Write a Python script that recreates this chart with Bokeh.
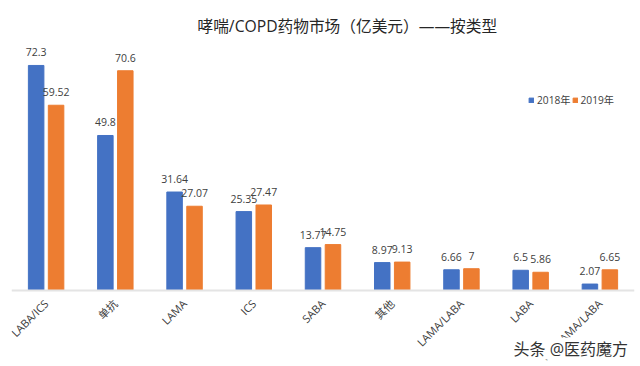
from math import pi
from bokeh.plotting import figure
from bokeh.models import ColumnDataSource, FactorRange, Range1d, Legend, LegendItem, Label
from bokeh.transform import dodge
from bokeh.core.properties import value
from bokeh.embed import file_html
from bokeh.resources import INLINE

categories = ["LABA/ICS", "单抗", "LAMA", "ICS", "SABA", "其他", "LAMA/LABA", "LABA", "ICS/LAMA/LABA"]
v2018 = [72.3, 49.8, 31.64, 25.35, 13.77, 8.97, 6.66, 6.5, 2.07]
v2019 = [59.52, 70.6, 27.07, 27.47, 14.75, 9.13, 7, 5.86, 6.65]
l2018 = ["72.3", "49.8", "31.64", "25.35", "13.77", "8.97", "6.66", "6.5", "2.07"]
l2019 = ["59.52", "70.6", "27.07", "27.47", "14.75", "9.13", "7", "5.86", "6.65"]
title = "哮喘/COPD药物市场（亿美元）——按类型"
series = ["2018年", "2019年"]
watermark = "头条 @医药魔方"

FONT = "'Open Sans', 'Noto Sans CJK SC'"
BLUE, ORANGE = "#4472c4", "#ed7d31"
TXT = "#404040"

src = ColumnDataSource(dict(cat=categories, a=v2018, b=v2019, la=l2018, lb=l2019))

# The frame runs below y=0 so the watermark can lie inside it; the axis is pinned at y=0.
p = figure(frame_width=623, frame_height=319, x_range=FactorRange(*categories, range_padding=0, factor_padding=0),
           y_range=Range1d(-22.49, 80), output_backend="svg", toolbar_location=None,
           min_border_left=11, min_border_right=6, min_border_top=41, min_border_bottom=6,
           background_fill_color="white", border_fill_color="white", outline_line_color=None)
p.x_range.range_padding = 0

off, w = 0.144, 0.224
r1 = p.vbar(x=dodge("cat", -off, range=p.x_range), top="a", width=w, source=src, color=BLUE)
r2 = p.vbar(x=dodge("cat", off, range=p.x_range), top="b", width=w, source=src, color=ORANGE)
for col, lab, o in (("a", "la", -off), ("b", "lb", off)):
    p.text(x=dodge("cat", o, range=p.x_range), y=col, text=lab, source=src, text_align="center",
           text_baseline="middle", y_offset=-13, text_font=value(FONT), text_font_size="10.5px", text_color=TXT)

p.yaxis.visible = False
p.ygrid.visible = False
p.xgrid.visible = False
ax = p.xaxis[0]
ax.fixed_location = 0
ax.major_tick_line_color = None
ax.minor_tick_line_color = None
ax.axis_line_color = "#e4e4e4"
ax.axis_line_width = 2
ax.major_label_orientation = pi / 4
ax.major_label_text_font = FONT
ax.major_label_text_font_size = "11px"
ax.major_label_text_color = TXT
ax.major_label_standoff = 5

p.title.text = title
p.title.text_font = FONT
p.title.text_font_size = "15.7px"
p.title.text_font_style = "normal"
p.title.text_color = "#262626"
p.title.align = "left"
p.title.offset = 186

legend = Legend(items=[LegendItem(label=series[0], renderers=[r1]), LegendItem(label=series[1], renderers=[r2])],
                orientation="horizontal", location=(517, 253), glyph_width=6, glyph_height=6,
                label_text_font=FONT, label_text_font_size="10.2px", label_text_color=TXT,
                border_line_color=None, background_fill_alpha=0, padding=0, margin=0,
                spacing=1, label_standoff=3)
p.add_layout(legend, "center")

p.add_layout(Label(x=502, y=12, x_units="screen", y_units="screen", text=watermark, text_font=FONT,
                   text_font_size="16px", text_color="#333333", text_baseline="middle",
                   background_fill_color="white"))

open("out.html", "w").write(file_html(p, INLINE))
